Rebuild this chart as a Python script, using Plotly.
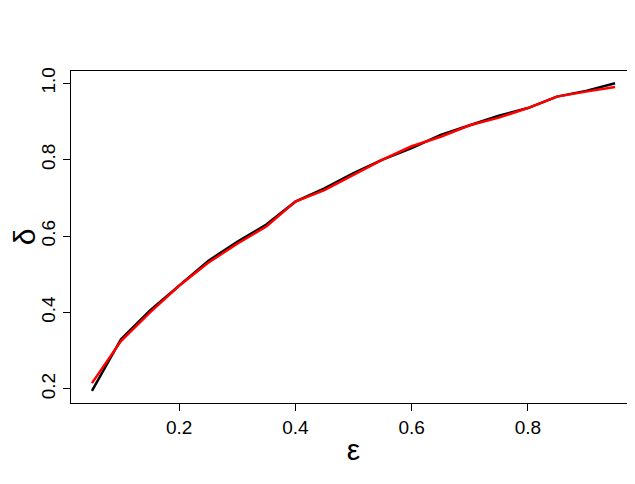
import plotly.graph_objects as go

eps = [0.05,0.1,0.15,0.2,0.25,0.3,0.35,0.4,0.45,0.5,0.55,0.6,0.65,0.7,0.75,0.8,0.85,0.9,0.95]
delta_black = [0.195,0.33,0.405,0.47,0.535,0.585,0.63,0.69,0.725,0.765,0.80,0.83,0.865,0.89,0.915,0.935,0.965,0.98,1.0]
delta_red = [0.215,0.325,0.40,0.47,0.53,0.58,0.625,0.69,0.72,0.76,0.80,0.835,0.86,0.89,0.91,0.935,0.965,0.978,0.99]
xticks = [0.2,0.4,0.6,0.8]
yticks = [0.2,0.4,0.6,0.8,1.0]

fig = go.Figure()
fig.add_trace(go.Scatter(x=eps, y=delta_black, mode="lines", line=dict(color="black", width=2.5)))
fig.add_trace(go.Scatter(x=eps, y=delta_red, mode="lines", line=dict(color="red", width=2.5)))
fig.update_layout(
    width=635, height=484, showlegend=False,
    plot_bgcolor="white", paper_bgcolor="white",
    margin=dict(l=63, r=7, t=63, b=89, autoexpand=False),
    font=dict(family="Liberation Sans, Arial", size=19, color="black"),
)
fig.update_xaxes(range=[0.014,0.986], tickvals=xticks, ticktext=["0.2","0.4","0.6","0.8"], automargin=False,
                 showgrid=False, zeroline=False, showline=True, mirror=True, linecolor="black", linewidth=1,
                 ticks="outside", ticklen=7, tickcolor="black",
                 title=dict(text="ε", font=dict(size=30), standoff=2))
fig.update_yaxes(range=[0.163,1.032], tickvals=yticks, ticktext=["0.2","0.4","0.6","0.8","1.0"], tickangle=-90,
                 automargin=False,
                 showgrid=False, zeroline=False, showline=True, mirror=True, linecolor="black", linewidth=1,
                 ticks="outside", ticklen=7, tickcolor="black",
                 title=dict(text="δ", font=dict(size=30), standoff=2))
fig.write_html("out.html")
